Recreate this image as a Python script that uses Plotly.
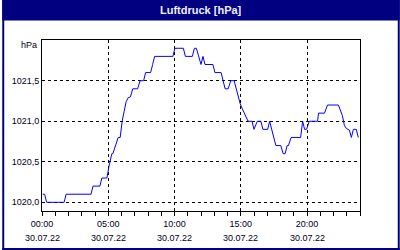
import plotly.graph_objects as go

# time of day in hours (30.07.22) and air pressure in hPa
hours = [0.05, 0.2, 0.35, 1.67, 1.82, 3.7, 3.85, 4.37, 4.52, 4.9, 5.05, 5.27, 5.35, 5.55,
         5.75, 5.9, 6.05, 6.2, 6.35, 6.5, 6.67, 6.85, 7.22, 7.4, 7.67, 7.82, 8.2, 8.35,
         8.5, 9.88, 10.03, 10.67, 10.82, 11.35, 11.5, 11.65, 11.85, 12.0, 12.15, 12.3,
         12.9, 13.05, 13.52, 13.67, 13.82, 14.05, 14.25, 14.5, 14.8, 14.95, 15.1, 15.25,
         15.4, 15.55, 15.85, 16.0, 16.25, 16.52, 16.67, 17.03, 17.18, 17.35, 17.5, 17.65,
         18.02, 18.2, 18.35, 18.5, 18.6, 18.8, 19.52, 19.67, 19.82, 19.97, 20.17, 20.8,
         20.87, 21.32, 21.55, 22.37, 22.67, 22.82, 22.97, 23.2, 23.35, 23.5, 23.72, 23.87]
pressure = [1020.1, 1020.1, 1020.0, 1020.0, 1020.1, 1020.1, 1020.2, 1020.2, 1020.3, 1020.3,
            1020.44, 1020.6, 1020.6, 1020.7, 1020.8, 1020.8, 1021.0, 1021.12, 1021.24,
            1021.29, 1021.3, 1021.4, 1021.4, 1021.5, 1021.5, 1021.6, 1021.6, 1021.7, 1021.8,
            1021.8, 1021.9, 1021.9, 1021.8, 1021.8, 1021.9, 1021.9, 1021.8, 1021.7, 1021.8,
            1021.7, 1021.7, 1021.6, 1021.6, 1021.5, 1021.4, 1021.4, 1021.5, 1021.5, 1021.3,
            1021.22, 1021.16, 1021.1, 1021.04, 1021.0, 1021.0, 1020.9, 1021.0, 1021.0,
            1020.9, 1020.9, 1021.0, 1020.9, 1020.8, 1020.7, 1020.7, 1020.6, 1020.6, 1020.7,
            1020.7, 1020.8, 1020.8, 1021.0, 1020.9, 1020.9, 1021.0, 1021.0, 1021.1, 1021.1,
            1021.2, 1021.2, 1021.07, 1020.95, 1020.91, 1020.89, 1020.8, 1020.9, 1020.9, 1020.8]

x_tickvals = [0, 5, 10, 15, 20]
x_ticktext = ["00:00", "05:00", "10:00", "15:00", "20:00"]
date_label = "30.07.22"
y_tickvals = [1020.0, 1020.5, 1021.0, 1021.5]
y_ticktext = ["1020,0", "1020,5", "1021,0", "1021,5"]
title = "Luftdruck [hPa]"
unit = "hPa"

NAVY = "#000080"
TXT = "#000020"
FONT = "Liberation Sans, Arial, sans-serif"

fig = go.Figure()
fig.add_trace(go.Scatter(x=hours, y=pressure, mode="lines",
                         line=dict(color="#0000FF", width=1), hoverinfo="skip"))

W, H = 400, 250
L, R, T, B = 40, 40, 40, 39
pw, ph = W - L - R, H - T - B

def px(xp):
    return (xp - L) / pw

def py(yp):
    return (H - B - yp) / ph

shapes = [
    dict(type="rect", xref="paper", yref="paper", x0=px(0), x1=px(400), y0=py(20.5), y1=py(0),
         fillcolor=NAVY, line=dict(width=0), layer="above"),
    dict(type="rect", xref="paper", yref="paper", x0=px(0), x1=px(2), y0=py(250), y1=py(0),
         fillcolor=NAVY, line=dict(width=0), layer="above"),
    dict(type="rect", xref="paper", yref="paper", x0=px(398), x1=px(400), y0=py(250), y1=py(0),
         fillcolor=NAVY, line=dict(width=0), layer="above"),
    dict(type="rect", xref="paper", yref="paper", x0=px(0), x1=px(400), y0=py(250), y1=py(248),
         fillcolor=NAVY, line=dict(width=0), layer="above"),
]

annotations = [
    dict(text="<b>" + title + "</b>", xref="paper", yref="paper", x=px(200), y=py(9.5),
         xanchor="center", yanchor="middle", showarrow=False,
         font=dict(family=FONT, size=11, color="#F0F0FF")),
    dict(text=unit, xref="paper", yref="paper", x=px(36.5), y=py(45), xanchor="right",
         yanchor="middle", showarrow=False, font=dict(family=FONT, size=9, color=TXT)),
]
for tv in x_tickvals:
    annotations.append(dict(text=date_label, x=tv, xref="x", yref="paper", y=py(238.5),
                            xanchor="center", yanchor="middle", showarrow=False,
                            font=dict(family=FONT, size=9, color=TXT)))

fig.update_layout(
    width=W, height=H,
    margin=dict(l=L, r=R, t=T, b=B),
    paper_bgcolor="white", plot_bgcolor="white",
    showlegend=False,
    shapes=shapes, annotations=annotations,
    font=dict(family=FONT, size=9, color=TXT),
)
fig.update_xaxes(range=[0, 24], tickvals=x_tickvals, ticktext=x_ticktext,
                 showgrid=True, gridcolor="black", gridwidth=1, griddash="3px,3px",
                 showline=True, linecolor="black", linewidth=1, mirror=True,
                 ticks="outside", ticklen=4, tickcolor="black",
                 minor=dict(dtick=1, tick0=0, ticks="outside", ticklen=4, tickcolor="black",
                            showgrid=False),
                 zeroline=False, fixedrange=True,
                 tickfont=dict(family=FONT, size=9, color=TXT))
fig.update_yaxes(range=[1019.893, 1022.002], tickvals=y_tickvals, ticktext=y_ticktext,
                 showgrid=True, gridcolor="black", gridwidth=1, griddash="3px,3px",
                 showline=True, linecolor="black", linewidth=1, mirror=True,
                 ticks="", zeroline=False, fixedrange=True,
                 tickfont=dict(family=FONT, size=9, color=TXT))

fig.write_html("out.html", config=dict(displayModeBar=False))
